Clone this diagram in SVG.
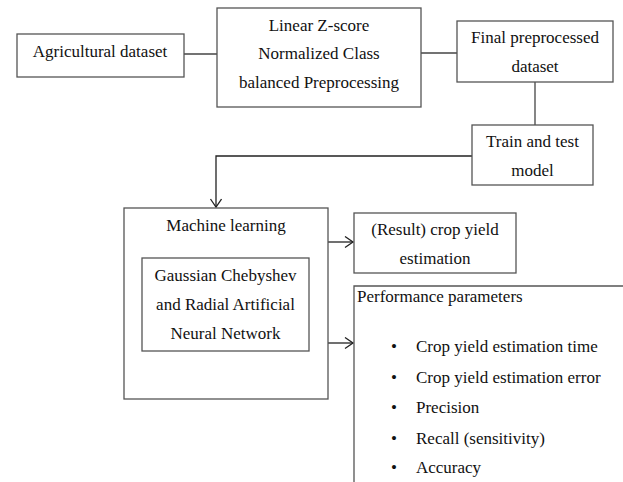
<svg xmlns="http://www.w3.org/2000/svg" width="623" height="482" viewBox="0 0 623 482">
<defs>
<style>
.box{fill:#fff;stroke:#555;stroke-width:1.3}
.ln{fill:none;stroke:#444;stroke-width:1.3}
.ar{fill:none;stroke:#222;stroke-width:1.3}
.t{font-family:'Liberation Serif','Times New Roman',Times,serif;font-size:17px;fill:#111}
.c{text-anchor:middle}
</style>
<marker id="v" markerUnits="userSpaceOnUse" markerWidth="12" markerHeight="14" refX="9" refY="6" orient="auto">
<path d="M1,0.5 L9,6 L1,11.5" fill="none" stroke="#222" stroke-width="1.3"/>
</marker>
</defs>
<rect width="623" height="482" fill="#fff"/>
<g id="connectors">
<line class="ln" x1="184" y1="54" x2="217" y2="54"/>
<line class="ln" x1="421" y1="53" x2="457" y2="53"/>
<line class="ln" x1="535" y1="82" x2="535" y2="125"/>
<polyline class="ar" points="472,156 216,156 216,207" marker-end="url(#v)"/>
<line class="ar" x1="328" y1="242" x2="353" y2="242" marker-end="url(#v)"/>
<line class="ar" x1="328" y1="343" x2="353" y2="343" marker-end="url(#v)"/>
</g>
<g class="t" font-family="Liberation Serif, serif">
<g id="agri">
<rect class="box" x="17" y="34" width="167" height="43"/>
<text x="100" y="57" class="c">Agricultural dataset</text>
</g>
<g id="linear">
<rect class="box" x="217" y="8" width="204" height="99"/>
<text x="319" y="31" class="c">Linear Z-score</text>
<text x="319" y="59" class="c">Normalized Class</text>
<text x="319" y="88" class="c">balanced Preprocessing</text>
</g>
<g id="final">
<rect class="box" x="457" y="21" width="156" height="61"/>
<text x="535" y="43" class="c">Final preprocessed</text>
<text x="535" y="72" class="c">dataset</text>
</g>
<g id="train">
<rect class="box" x="472" y="125" width="121" height="60"/>
<text x="532.5" y="147" class="c">Train and test</text>
<text x="532.5" y="176" class="c">model</text>
</g>
<g id="ml">
<rect class="box" x="124" y="208" width="204" height="191"/>
<text x="226" y="231" class="c">Machine learning</text>
</g>
<g id="gcranet">
<rect class="box" x="142" y="258" width="167" height="93"/>
<text x="225.5" y="281" class="c">Gaussian Chebyshev</text>
<text x="225.5" y="310" class="c">and Radial Artificial</text>
<text x="225.5" y="339" class="c">Neural Network</text>
</g>
<g id="result">
<rect class="box" x="354" y="213" width="162" height="60"/>
<text x="435" y="235" class="c">(Result) crop yield</text>
<text x="435" y="264" class="c">estimation</text>
</g>
<g id="performance">
<path class="box" d="M354,486 L354,286 L626,286 L626,486"/>
<text x="357" y="302">Performance parameters</text>
<text x="394" y="352" class="c">•</text><text x="416" y="352">Crop yield estimation time</text>
<text x="394" y="383" class="c">•</text><text x="416" y="383">Crop yield estimation error</text>
<text x="394" y="413" class="c">•</text><text x="416" y="413">Precision</text>
<text x="394" y="444" class="c">•</text><text x="416" y="444">Recall (sensitivity)</text>
<text x="394" y="473" class="c">•</text><text x="416" y="473">Accuracy</text>
</g>
</g>
</svg>
